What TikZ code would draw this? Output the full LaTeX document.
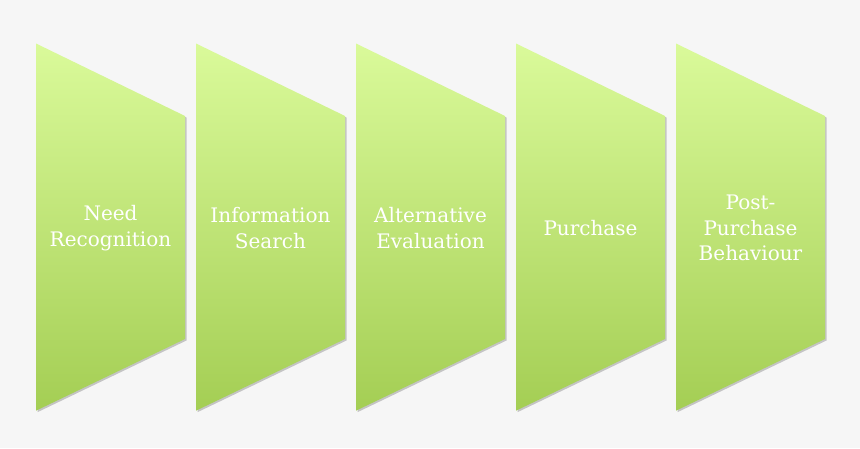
\documentclass[tikz,border=0pt]{standalone}
\usepackage{fontspec}
\setmainfont{DejaVu Serif}
\usetikzlibrary{shadows}
\definecolor{bgcol}{RGB}{246,246,246}
\definecolor{topgreen}{RGB}{218,250,154}
\definecolor{botgreen}{RGB}{164,206,84}
\tikzset{
  stage/.style={top color=topgreen, bottom color=botgreen, draw=none,
    drop shadow={shadow xshift=1.5pt, shadow yshift=-1.5pt, opacity=0.2, fill=black}},
  label/.style={text=white, align=center, font=\fontsize{20}{25.5}\selectfont, inner sep=0pt}
}
\begin{document}
\begin{tikzpicture}[x=1pt,y=-1pt]
\fill[bgcol] (0,0) rectangle (860,448);
\useasboundingbox (0,0) rectangle (860,448);
\foreach \i/\txt/\nm in {0/{Need\\Recognition}/need,1/{Information\\Search}/info,2/{Alternative\\Evaluation}/alt,3/{Purchase}/buy,4/{Post-\\Purchase\\Behaviour}/post}{
  \pgfmathsetmacro{\xa}{36+160*\i}
  \pgfmathsetmacro{\xb}{\xa+149}
  \path[stage] (\xa,43.5) -- (\xb,116) -- (\xb,339) -- (\xa,410.7) -- cycle;
  \node[label] (\nm) at ({\xa+74.5},228) {\txt};
}
\end{tikzpicture}
\end{document}
